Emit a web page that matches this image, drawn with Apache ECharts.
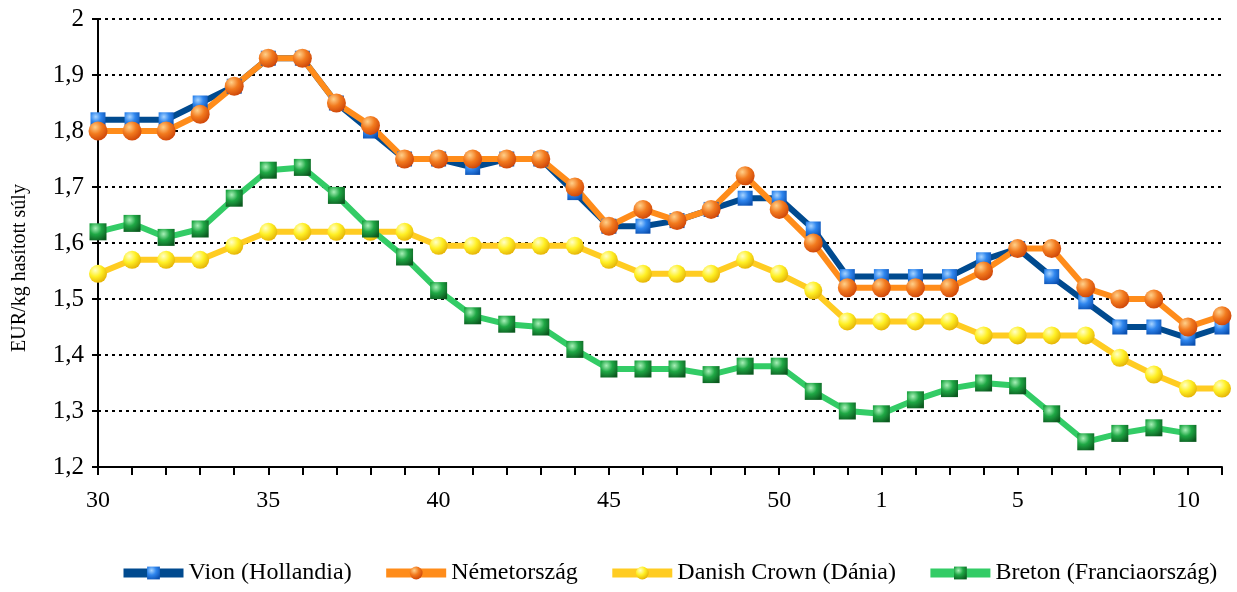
<!DOCTYPE html>
<html>
<head>
<meta charset="utf-8">
<script src="https://cdn.jsdelivr.net/npm/echarts@6/dist/echarts.min.js"></script>
<style>
  * { margin: 0; padding: 0; }
  html, body { width: 1237px; height: 592px; background: #fff; }
  #main { width: 1237px; height: 592px; }
</style>
</head>
<body>
<div id="main"></div>
<script>
// hetek (30. héttől a következő év 11. hetéig)
var weeks = [30, 31, 32, 33, 34, 35, 36, 37, 38, 39, 40, 41, 42, 43, 44, 45, 46, 47, 48, 49, 50, 51, 52,
  1, 2, 3, 4, 5, 6, 7, 8, 9, 10, 11]
var shownWeeks = [30, 35, 40, 45, 50, 1, 5, 10]

var vion = [1.82, 1.82, 1.82, 1.85, 1.88, 1.93, 1.93, 1.85, 1.80, 1.75, 1.75, 1.735, 1.75, 1.75, 1.69, 1.63, 1.63,
  1.64, 1.66, 1.68, 1.68, 1.625, 1.54, 1.54, 1.54, 1.54, 1.57, 1.59, 1.54, 1.495, 1.45, 1.45, 1.43, 1.45]
var nemet = [1.80, 1.80, 1.80, 1.83, 1.88, 1.93, 1.93, 1.85, 1.81, 1.75, 1.75, 1.75, 1.75, 1.75, 1.70, 1.63, 1.66,
  1.64, 1.66, 1.72, 1.66, 1.60, 1.52, 1.52, 1.52, 1.52, 1.55, 1.59, 1.59, 1.52, 1.50, 1.50, 1.45, 1.47]
var danish = [1.545, 1.57, 1.57, 1.57, 1.595, 1.62, 1.62, 1.62, 1.62, 1.62, 1.595, 1.595, 1.595, 1.595, 1.595, 1.57, 1.545,
  1.545, 1.545, 1.57, 1.545, 1.515, 1.46, 1.46, 1.46, 1.46, 1.435, 1.435, 1.435, 1.435, 1.395, 1.365, 1.34, 1.34]
var breton = [1.62, 1.635, 1.61, 1.625, 1.68, 1.73, 1.735, 1.685, 1.625, 1.575, 1.515, 1.47, 1.455, 1.45, 1.41, 1.375, 1.375,
  1.375, 1.365, 1.38, 1.38, 1.335, 1.30, 1.295, 1.32, 1.34, 1.35, 1.345, 1.295, 1.245, 1.26, 1.27, 1.26, null]

var font = 'Liberation Serif'

function shine (light, mid, dark) {
  return new echarts.graphic.RadialGradient(0.35, 0.3, 0.8, [
    { offset: 0, color: light },
    { offset: 0.45, color: mid },
    { offset: 1, color: dark }
  ])
}

function makeSeries (name, data, lineColor, symbol, size, light, mid, dark) {
  return {
    name: name,
    type: 'line',
    data: data,
    symbol: symbol,
    symbolSize: size,
    lineStyle: { color: lineColor, width: 6 },
    itemStyle: { color: shine(light, mid, dark), borderWidth: 0 },
    color: lineColor,
    connectNulls: false,
    animation: false
  }
}

var myChart = echarts.init(document.getElementById('main'))

var option = {
  backgroundColor: '#fff',
  grid: { left: 98, right: 15, top: 19, bottom: 125 },
  graphic: [{
    type: 'text',
    x: 20,
    y: 268,
    rotation: Math.PI / 2,
    style: {
      text: 'EUR/kg hasított súly',
      fill: '#000',
      font: '20px "Liberation Serif"',
      textAlign: 'center',
      textVerticalAlign: 'middle'
    }
  }],
  xAxis: {
    type: 'category',
    data: weeks,
    boundaryGap: false,
    axisLine: { lineStyle: { color: '#000', width: 2 } },
    axisTick: { interval: 0, length: 8, lineStyle: { color: '#000', width: 2 } },
    axisLabel: {
      interval: function (i, v) { return shownWeeks.indexOf(+v) >= 0 },
      color: '#000',
      fontFamily: font,
      fontSize: 24,
      margin: 22
    },
    splitLine: { show: false }
  },
  yAxis: {
    type: 'value',
    min: 1.2,
    max: 2,
    interval: 0.1,
    axisLine: { show: true, lineStyle: { color: '#000', width: 2 } },
    axisTick: { show: true, length: 6, lineStyle: { color: '#000', width: 2 } },
    axisLabel: {
      color: '#000',
      fontFamily: font,
      fontSize: 25,
      margin: 14,
      formatter: function (v) { return String(+v.toFixed(1)).replace('.', ',') }
    },
    splitLine: { show: true, lineStyle: { color: '#000', width: 2, type: [3, 4] } }
  },
  legend: {
    bottom: 2,
    left: 114,
    itemWidth: 60,
    itemHeight: 16,
    itemGap: 30,
    lineStyle: { width: 9 },
    textStyle: { color: '#000', fontFamily: font, fontSize: 24 },
    data: ['Vion (Hollandia)', 'Németország', 'Danish Crown (Dánia)', 'Breton (Franciaország)']
  },
  series: [
    makeSeries('Vion (Hollandia)', vion, '#004a8f', 'rect', 15, '#a8d4ff', '#2f86ee', '#0a4fb0'),
    makeSeries('Németország', nemet, '#ff8c1a', 'circle', 19, '#ffd08a', '#f27a1e', '#c83d05'),
    makeSeries('Danish Crown (Dánia)', danish, '#ffcc22', 'circle', 18, '#ffffc8', '#fff025', '#e0a800'),
    makeSeries('Breton (Franciaország)', breton, '#33cc66', 'rect', 17, '#a8f0b8', '#1fa845', '#0b5a1f')
  ]
}

myChart.setOption(option)
</script>
</body>
</html>
